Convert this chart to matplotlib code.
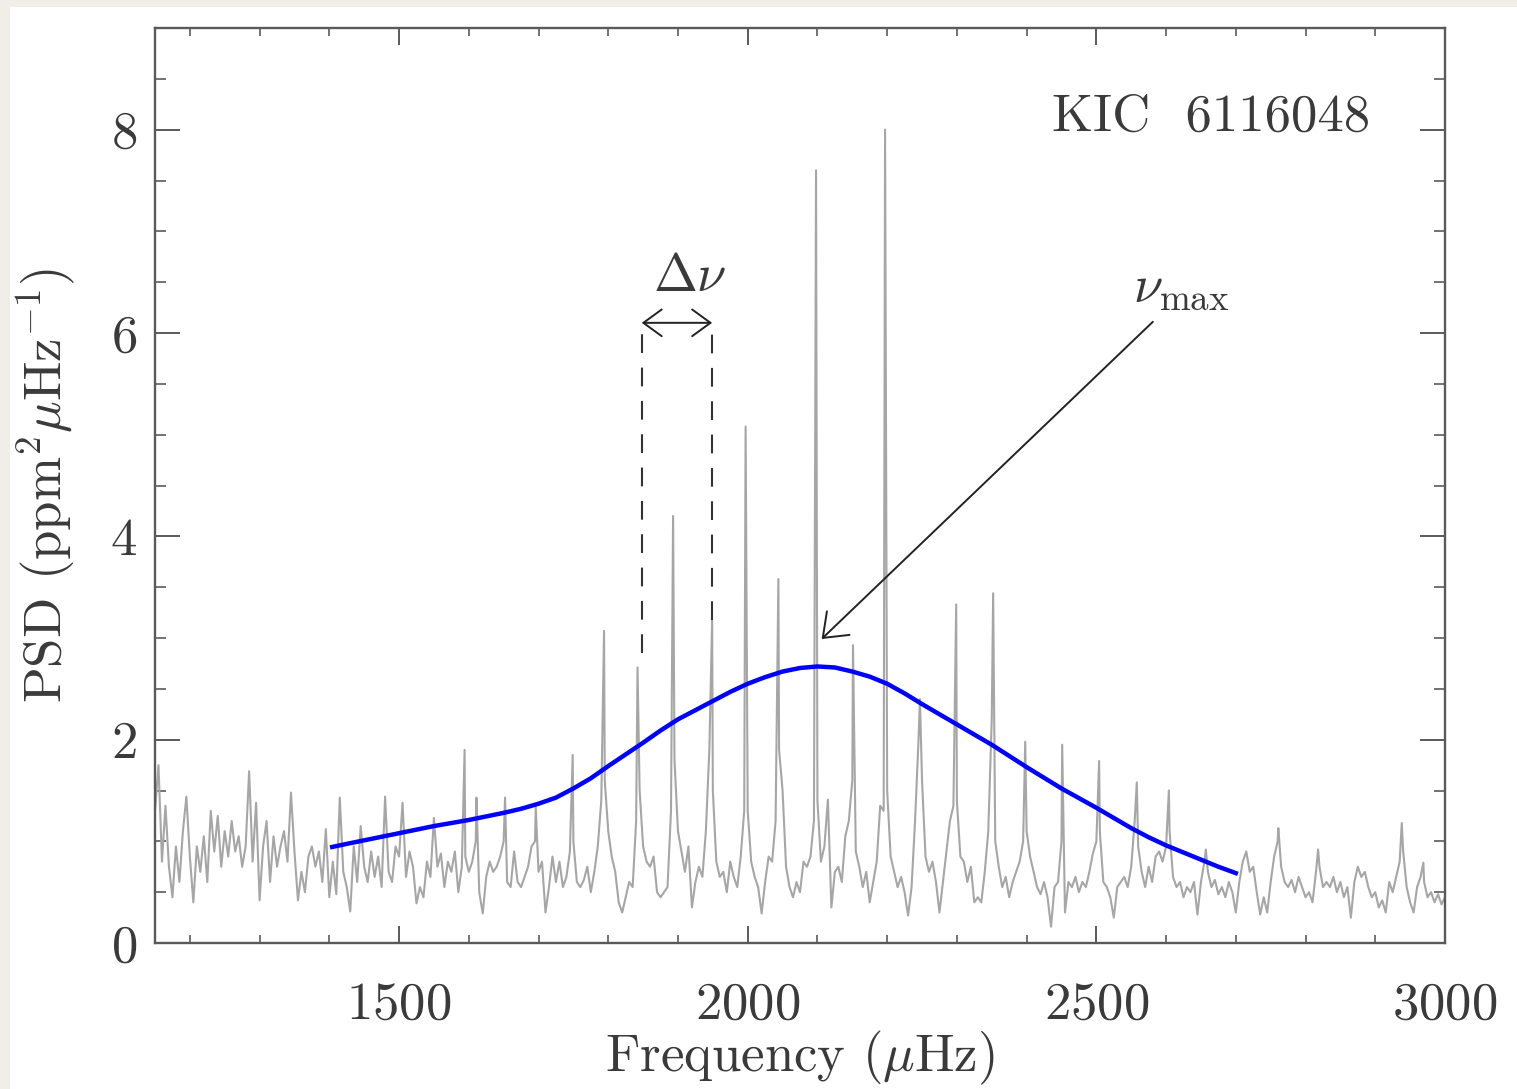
import numpy as np
import matplotlib
matplotlib.use("Agg")
import matplotlib.pyplot as plt
from matplotlib.ticker import MultipleLocator, FixedLocator
from matplotlib.patches import Rectangle

plt.rcParams["font.family"] = ["cmr10", "DejaVu Serif"]
plt.rcParams["mathtext.fontset"] = "cm"
plt.rcParams["axes.formatter.use_mathtext"] = True

# ---- power spectrum: background noise sampled every 5 muHz from 1150 to 3000 ----
noise_start = 1150.0
noise_step = 5.0
noise_psd = [
    1.30, 1.75, 0.80, 1.35, 0.75, 0.45, 0.95, 0.60, 1.10, 1.44,   # 1150
    0.85, 0.40, 0.95, 0.70, 1.05, 0.60, 1.30, 0.90, 1.25, 0.75,   # 1200
    1.10, 0.85, 1.20, 0.90, 1.05, 0.75, 0.95, 1.69, 0.80, 1.38,   # 1250
    0.42, 0.95, 1.20, 0.60, 1.05, 0.75, 0.95, 1.10, 0.80, 1.48,   # 1300
    0.90, 0.42, 0.70, 0.50, 0.85, 0.95, 0.75, 0.90, 0.60, 1.12,   # 1350
    0.45, 0.80, 0.48, 1.43, 0.70, 0.55, 0.31, 0.95, 0.60, 1.15,   # 1400
    0.75, 0.60, 0.90, 0.65, 0.85, 0.55, 1.44, 0.70, 0.60, 0.95,   # 1450
    0.85, 1.38, 0.65, 0.90, 0.75, 0.39, 0.55, 0.45, 0.80, 0.65,   # 1500
    1.23, 0.75, 0.88, 0.55, 0.80, 0.70, 0.90, 0.50, 0.75, 0.85,   # 1550
    0.70, 0.80, 1.00, 0.50, 0.29, 0.65, 0.80, 0.70, 0.75, 0.85,   # 1600
    1.00, 0.60, 0.55, 0.90, 0.60, 0.55, 0.65, 0.75, 0.95, 1.00,   # 1650
    0.70, 0.80, 0.30, 0.55, 0.85, 0.60, 0.80, 0.55, 0.65, 0.90,   # 1700
    1.00, 0.60, 0.55, 0.62, 0.75, 0.50, 0.70, 0.95, 1.40, 1.60,   # 1750
    1.10, 0.85, 0.70, 0.40, 0.30, 0.45, 0.60, 0.55, 1.20, 1.50,   # 1800
    0.95, 0.80, 0.75, 0.85, 0.50, 0.45, 0.50, 0.55, 1.30, 1.80,   # 1850
    1.10, 0.90, 0.70, 0.95, 0.35, 0.60, 0.75, 0.65, 1.10, 1.90,   # 1900
    1.50, 0.80, 0.65, 0.70, 0.50, 0.80, 0.65, 0.55, 0.85, 1.30,   # 1950
    1.30, 0.80, 0.65, 0.55, 0.29, 0.60, 0.85, 0.80, 1.20, 1.90,   # 2000
    1.50, 0.75, 0.55, 0.45, 0.60, 0.50, 0.80, 0.75, 0.85, 1.20,   # 2050
    1.40, 0.80, 0.95, 1.41, 0.35, 0.70, 0.75, 0.60, 1.05, 1.20,   # 2100
    1.60, 0.90, 0.75, 0.55, 0.70, 0.40, 0.60, 0.80, 1.35, 1.30,   # 2150
    1.50, 0.85, 0.70, 0.55, 0.65, 0.50, 0.27, 0.55, 1.20, 2.00,   # 2200
    1.60, 0.85, 0.70, 0.80, 0.60, 0.30, 0.60, 0.90, 1.20, 1.35,   # 2250
    1.40, 0.85, 0.80, 0.60, 0.75, 0.40, 0.45, 0.40, 0.70, 1.10,   # 2300
    2.20, 1.00, 0.75, 0.55, 0.65, 0.45, 0.60, 0.70, 0.80, 1.00,   # 2350
    1.10, 0.85, 0.70, 0.55, 0.48, 0.60, 0.45, 0.16, 0.55, 0.60,   # 2400
    1.00, 0.30, 0.60, 0.55, 0.65, 0.50, 0.60, 0.55, 0.70, 0.88,   # 2450
    1.00, 1.10, 0.60, 0.55, 0.45, 0.25, 0.55, 0.60, 0.65, 0.55,   # 2500
    0.75, 1.20, 0.95, 0.70, 0.55, 0.75, 0.60, 0.85, 0.90, 0.80,   # 2550
    0.95, 1.10, 0.65, 0.55, 0.60, 0.45, 0.55, 0.50, 0.60, 0.28,   # 2600
    0.60, 0.80, 0.70, 0.55, 0.62, 0.48, 0.55, 0.45, 0.60, 0.50,   # 2650
    0.30, 0.60, 0.80, 0.90, 0.70, 0.75, 0.50, 0.28, 0.45, 0.30,   # 2700
    0.60, 0.85, 1.00, 0.75, 0.60, 0.55, 0.62, 0.50, 0.65, 0.55,   # 2750
    0.45, 0.50, 0.40, 0.70, 0.75, 0.55, 0.60, 0.55, 0.65, 0.50,   # 2800
    0.60, 0.45, 0.55, 0.25, 0.60, 0.75, 0.65, 0.70, 0.55, 0.45,   # 2850
    0.50, 0.35, 0.42, 0.30, 0.60, 0.50, 0.65, 0.80, 0.90, 0.55,   # 2900
    0.40, 0.30, 0.55, 0.65, 0.60, 0.45, 0.50, 0.40, 0.48, 0.38,   # 2950
    0.45,                                                         # 3000
]

# ---- oscillation mode peaks (frequency in muHz, PSD) ----
mode_freq = [1594, 1611, 1652, 1696, 1749, 1794, 1842, 1893, 1949, 1997,
             2044, 2098, 2151, 2197, 2247, 2299, 2352, 2398, 2451, 2504,
             2558, 2604, 2657, 2761, 2818, 2938, 2969]
mode_psd = [1.90, 1.43, 1.43, 1.34, 1.85, 3.07, 2.71, 4.20, 3.18, 5.08,
            3.58, 7.60, 2.93, 8.00, 2.40, 3.33, 3.44, 1.98, 1.95, 1.79,
            1.58, 1.50, 0.92, 1.13, 0.92, 1.18, 0.79]

# ---- smoothed power excess envelope ----
env_freq = [1401, 1425, 1450, 1475, 1500, 1525, 1550, 1575, 1600, 1625,
            1650, 1675, 1700, 1725, 1750, 1775, 1800, 1825, 1850, 1875,
            1900, 1925, 1950, 1975, 2000, 2025, 2050, 2075, 2100, 2125,
            2150, 2175, 2200, 2225, 2250, 2275, 2300, 2325, 2350, 2375,
            2400, 2425, 2450, 2475, 2500, 2525, 2550, 2575, 2600, 2625,
            2650, 2675, 2703]
env_psd = [0.94, 0.975, 1.01, 1.045, 1.08, 1.115, 1.15, 1.18, 1.21, 1.245,
           1.28, 1.32, 1.37, 1.43, 1.52, 1.62, 1.74, 1.855, 1.97, 2.09,
           2.20, 2.29, 2.38, 2.47, 2.55, 2.615, 2.67, 2.705, 2.72, 2.71,
           2.67, 2.62, 2.55, 2.455, 2.35, 2.25, 2.15, 2.05, 1.95, 1.84,
           1.73, 1.625, 1.52, 1.425, 1.33, 1.23, 1.13, 1.04, 0.96, 0.89,
           0.82, 0.75, 0.68]

# ---- large separation marker and nu_max ----
dnu_left, dnu_right = 1848, 1949
dnu_left_base, dnu_right_base = 2.85, 3.18
dnu_level = 6.1
numax_freq, numax_psd = 2106, 2.99

# combine the noise grid and the mode peaks into one spectrum
noise_freq = noise_start + noise_step * np.arange(len(noise_psd))
freq = np.concatenate([noise_freq, np.asarray(mode_freq, float)])
psd = np.concatenate([np.asarray(noise_psd), np.asarray(mode_psd)])
order = np.argsort(freq, kind="stable")
freq, psd = freq[order], psd[order]

W, H = 1517, 1089
fig = plt.figure(figsize=(W / 100, H / 100), dpi=100, facecolor="#f1eee9")
fig.patches.append(Rectangle((10 / W, 0), 1, 1 - 7 / H, transform=fig.transFigure,
                             facecolor="white", edgecolor="none", zorder=-5))

ax = fig.add_axes([155 / W, 1 - 943 / H, 1290 / W, 915 / H])
ax.set_facecolor("white")

ink = "#3a3a3a"
frame = "#5a5a5a"
fs = 38

ax.plot(freq, psd, color="#a6a6a6", lw=1.5, zorder=2)
ax.plot(env_freq, env_psd, color="#0000ff", lw=3.2, zorder=3,
        solid_capstyle="butt", solid_joinstyle="round")

ax.set_xlim(1150, 3000)
ax.set_ylim(0, 9)

# dashed guides and the double arrow for the large separation
for xf, yb in ((dnu_left, dnu_left_base), (dnu_right, dnu_right_base)):
    ax.plot([xf, xf], [yb, dnu_level], color="#333333", lw=1.5,
            dashes=(9, 7), zorder=4)
ax.annotate("", xy=(dnu_left, dnu_level), xytext=(dnu_right, dnu_level),
            arrowprops=dict(arrowstyle="<->,head_length=0.55,head_width=0.4",
                            lw=1.4, color="#222222", shrinkA=0, shrinkB=0,
                            mutation_scale=24), zorder=5)
ax.text((dnu_left + dnu_right) / 2 + 18, 6.55, r"$\Delta\nu$", fontsize=fs,
        color=ink, ha="center", va="center")

# nu_max arrow
ax.annotate("", xy=(numax_freq, numax_psd), xytext=(2581, 6.11),
            arrowprops=dict(arrowstyle="->,head_length=0.55,head_width=0.42",
                            lw=1.4, color="#222222", shrinkA=0, shrinkB=0,
                            mutation_scale=28), zorder=5)
ax.text(2622, 6.43, r"$\nu_{\rm max}$", fontsize=fs, color=ink,
        ha="center", va="center")

ax.text(0.942, 0.903, "KIC  6116048", transform=ax.transAxes, fontsize=fs,
        color=ink, ha="right", va="center")

# axes, ticks and labels
ax.xaxis.set_major_locator(FixedLocator([1500, 2000, 2500, 3000]))
ax.xaxis.set_minor_locator(MultipleLocator(100))
ax.yaxis.set_major_locator(MultipleLocator(2))
ax.yaxis.set_minor_locator(MultipleLocator(0.5))

for s in ax.spines.values():
    s.set_color(frame)
    s.set_linewidth(1.7)

ax.tick_params(axis="both", which="both", direction="in", top=True, right=True,
               color=frame, labelcolor=ink, labelsize=fs)
ax.tick_params(axis="x", which="major", length=12, width=1.4, pad=28)
ax.tick_params(axis="x", which="minor", length=6, width=1.2)
ax.tick_params(axis="y", which="major", length=18, width=1.4, pad=13)
ax.tick_params(axis="y", which="minor", length=8, width=1.2)

ax.set_xlabel(r"Frequency ($\mu$Hz)", fontsize=fs, color=ink)
ax.xaxis.set_label_coords(0.5, -0.094)
ax.set_ylabel(r"PSD (ppm$^2\mu$Hz$^{-1}$)", fontsize=fs, color=ink)
ax.yaxis.set_label_coords(-0.060, 0.5)

fig.savefig("out.png", dpi=100, facecolor=fig.get_facecolor())
